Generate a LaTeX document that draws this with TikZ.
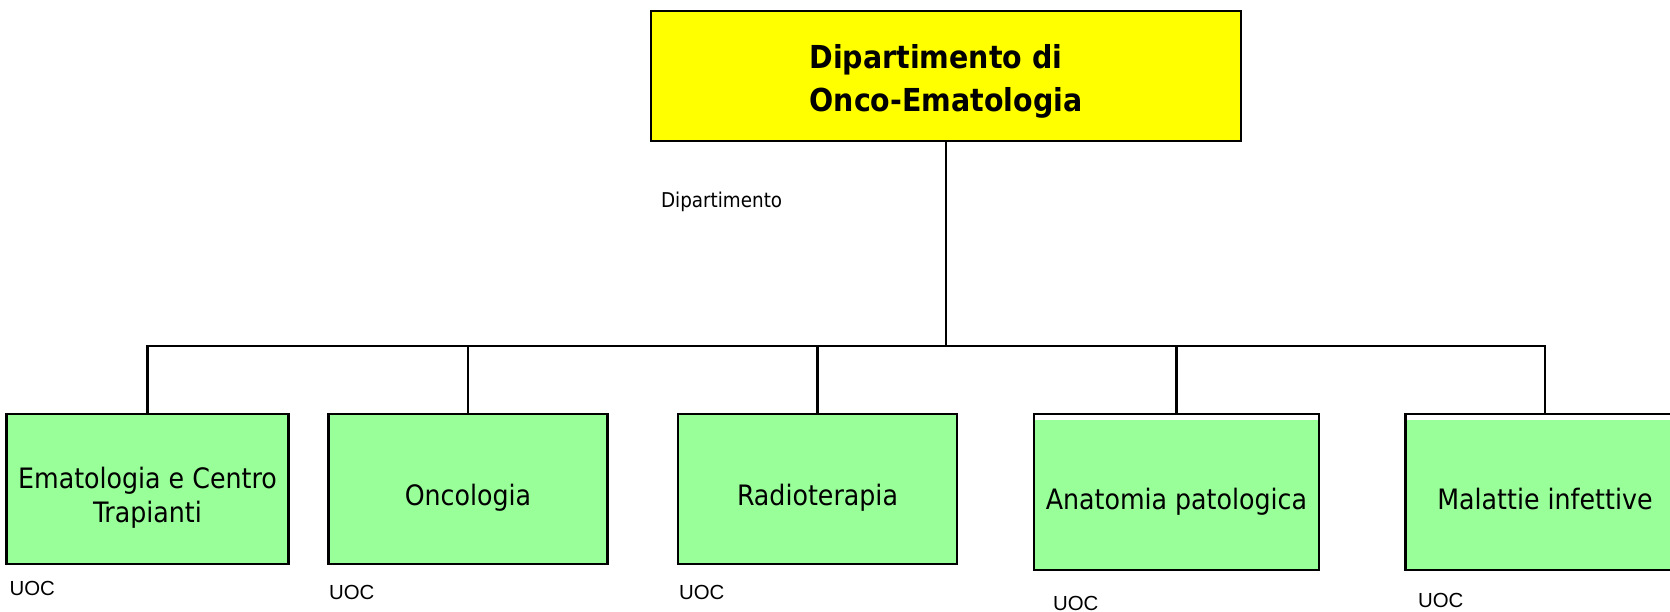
\documentclass[tikz,border=0pt]{standalone}
\usepackage{fontspec}
\newfontfamily\tahomafont{DejaVu Sans Condensed}
\newfontfamily\arialfont{Liberation Sans}
\definecolor{deptyellow}{HTML}{FFFF00}
\definecolor{uocgreen}{HTML}{99FF99}

\begin{document}
\begin{tikzpicture}[line width=0.6pt,
  dept/.style={draw, fill=deptyellow, minimum width=5.9cm, minimum height=1.3cm, align=left, text height=20pt, text depth=0pt, font=\tahomafont\bfseries\fontsize{9}{12.2}\selectfont},
  unit/.style={draw, fill=uocgreen, minimum width=2.79cm, minimum height=1.5cm, align=center, text height=9.2pt, text depth=0pt, font=\tahomafont\fontsize{8}{9.7}\selectfont},
  tall/.style={minimum height=1.56cm, text height=10.2pt, path picture={\fill[white] (path picture bounding box.north west) rectangle ([yshift=-0.06cm]path picture bounding box.north east);}},
  tag/.style={anchor=west, inner sep=0pt, font=\tahomafont\fontsize{5.8}{7}\selectfont},
  uoc/.style={anchor=west, inner sep=0pt, font=\arialfont\fontsize{5.8}{7}\selectfont}]
  \useasboundingbox (0,0) rectangle (16.7,-6.12);
  \node[dept] (dept) at (9.46, -0.76) {Dipartimento di\\Onco-Ematologia};
  \node[tag] (lbl) at (6.60, -2.02) {Dipartimento};
  \node[unit, text height=19.2pt] (ema) at (1.475, -4.89) {Ematologia e Centro\\Trapianti};
  \node[unit] (onc) at (4.68, -4.89) {Oncologia};
  \node[unit] (rad) at (8.175, -4.89) {Radioterapia};
  \node[unit, tall] (ana) at (11.765, -4.92) {Anatomia patologica};
  \node[unit, tall] (mal) at (15.45, -4.92) {Malattie infettive};
  \node[uoc] (u1) at (0.085, -5.88) {UOC};
  \node[uoc] (u2) at (3.28, -5.92) {UOC};
  \node[uoc] (u3) at (6.78, -5.92) {UOC};
  \node[uoc] (u4) at (10.52, -6.03) {UOC};
  \node[uoc] (u5) at (14.17, -6.00) {UOC};
  \coordinate (bus) at (9.46, -3.46);
  \draw (dept) -- (bus);
  \draw (ema) |- (bus);
  \draw (onc) |- (bus);
  \draw (rad) |- (bus);
  \draw (ana) |- (bus);
  \draw (mal) |- (bus);
\end{tikzpicture}
\end{document}
